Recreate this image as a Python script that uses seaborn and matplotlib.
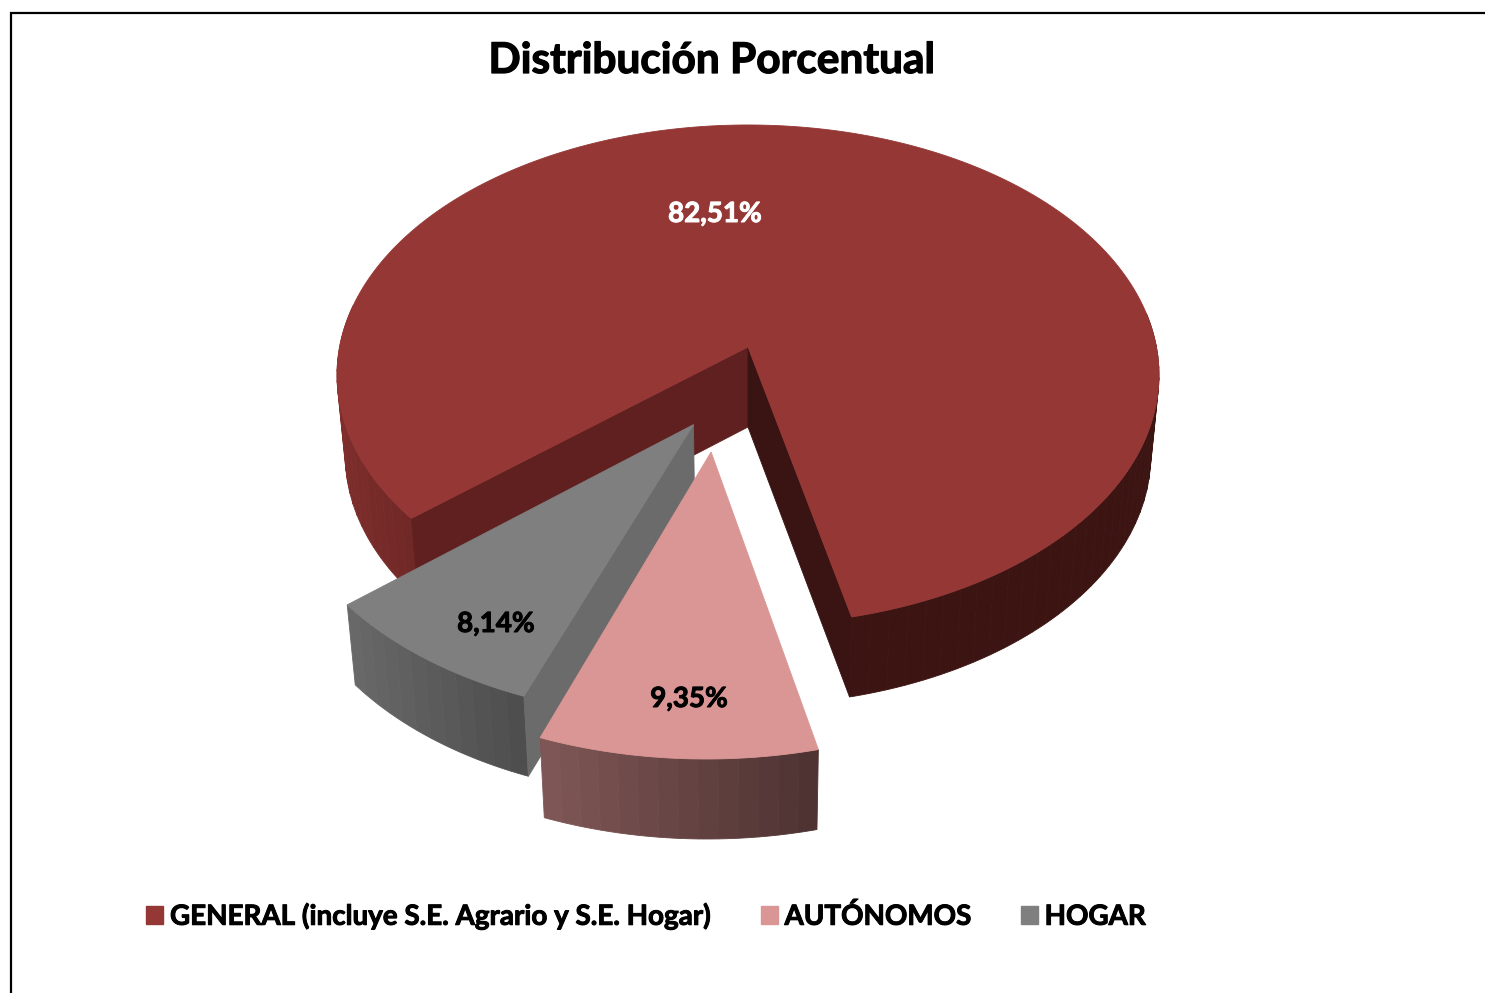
import numpy as np
import seaborn as sns
import matplotlib.pyplot as plt
import matplotlib.patheffects as pe
from matplotlib.patches import Patch, Polygon

LABELS = ['GENERAL (incluye S.E. Agrario y S.E. Hogar)', 'AUTÓNOMOS', 'HOGAR']
VALUES = [82.51, 9.35, 8.14]
VALUE_TEXT = ['82,51%', '9,35%', '8,14%']
TOP_COLORS = ['#953735', '#d99694', '#7f7f7f']
TEXT_COLORS = ['white', 'black', 'black']

# wall shading, left to right
WALL_COLORS = [['#7f2e2c', '#3c1513', '#3c1513'], ['#7d5655', '#4e3332'], ['#686868', '#4e4e4e']]
FACE_COLORS = ['#5f201f', '#3a1412']
GRAY_FACE = '#6b6b6b'

FIRST_ANGLE = 229.9
EXPLODE = [(0.0, 0.0), (0.415, 192.0), (0.33, 203.0)]
RADIUS = [1.0, 1.0, 0.98]
NUDGE = [0.0, -0.35, 0.0]
LABEL_POS = [(715, 214), (689, 699), (496, 624)]

# perspective of the pie plane, fitted on the picture
CX, CY = 748.0, 347.0
A, B, K = 408.4, 246.9, 0.112
DEPTH = 80.0
SHRINK = 0.02


def project(u, v, z=0.0):
	u = np.asarray(u, dtype=float)
	v = np.asarray(v, dtype=float)
	w = 1 + K * v
	sx = CX + A * u / w * (1 - SHRINK * z)
	sy = CY - B * v / w + DEPTH * z
	return sx, sy


def rim(a0, a1, off, rad, n=160):
	t = np.radians(np.linspace(a0, a1, n))
	return off[0] + rad * np.sin(t), off[1] + rad * np.cos(t)


def poly(ax, sx, sy, color, z):
	ax.add_patch(Polygon(np.column_stack([sx, sy]), closed=True, fc=color, ec=color, lw=0.6, zorder=z))


def draw_walls(ax, a0, a1, off, rad, colors, z):
	n = int(abs(a1 - a0) / 2.5) + 2
	edges = np.linspace(a0, a1, n)
	shades = sns.blend_palette(colors, 101)
	mids = np.sin(np.radians((edges[:-1] + edges[1:]) / 2))
	lo, hi = mids.min(), mids.max()
	for e0, e1, m in zip(edges[:-1], edges[1:], mids):
		u, v = rim(e0, e1, off, rad, 6)
		# only the near half of the rim can be seen
		if v.mean() - off[1] > 0.15:
			continue
		x0, y0 = project(u, v, 0)
		x1, y1 = project(u[::-1], v[::-1], 1)
		pos = (m - lo) / (hi - lo)
		poly(ax, np.r_[x0, x1], np.r_[y0, y1], shades[int(pos * 100)], z)


def draw_face(ax, off, rad, angle, color, z):
	u, v = rim(angle, angle, off, rad, 1)
	pu = [off[0], u[0], u[0], off[0]]
	pv = [off[1], v[0], v[0], off[1]]
	x0, y0 = project(pu[:2], pv[:2], 0)
	x1, y1 = project(pu[2:], pv[2:], 1)
	poly(ax, np.r_[x0, x1], np.r_[y0, y1], color, z)


def main():
	sns.set_theme(style='white')
	plt.rcParams['font.family'] = ['Lato', 'DejaVu Sans']

	fig, ax = plt.subplots(figsize=(14.85, 9.93), dpi=100)
	ax.set_position([0, 0, 1, 1])
	ax.set_xlim(0, 1485)
	ax.set_ylim(993, 0)
	ax.axis('off')

	# chart frame runs off the right and the bottom of the picture
	ax.plot([11, 11, 1490], [1000, 13, 13], color='black', lw=1.6, zorder=1, solid_joinstyle='miter')

	sweeps = np.array(VALUES) / sum(VALUES) * 360
	starts = FIRST_ANGLE + np.r_[0, np.cumsum(sweeps)[:-1]]

	# draw order: general, hogar, autonomos (pink sits in front of the gray wedge)
	for layer, i in enumerate([0, 2, 1]):
		start = starts[i] + NUDGE[i]
		end = start + sweeps[i]
		r, d = EXPLODE[i]
		rad = RADIUS[i]
		off = (r * np.sin(np.radians(d)), r * np.cos(np.radians(d)))
		base = 10 * (layer + 1)
		draw_walls(ax, start, end, off, rad, WALL_COLORS[i], base)
		if i == 0:
			draw_face(ax, off, rad, start, FACE_COLORS[0], base + 1)
			draw_face(ax, off, rad, end, FACE_COLORS[1], base + 1)
		if i == 2:
			draw_face(ax, off, rad, start, GRAY_FACE, base + 1)
		u, v = rim(start, end, off, rad, 240)
		sx, sy = project(np.r_[off[0], u], np.r_[off[1], v], 0)
		poly(ax, sx, sy, TOP_COLORS[i], base + 2)

	for txt, col, (x, y) in zip(VALUE_TEXT, TEXT_COLORS, LABEL_POS):
		t = ax.text(x, y, txt, color=col, fontsize=20, fontweight='bold', ha='center', va='center', zorder=60)
		t.set_path_effects([pe.withStroke(linewidth=0.7, foreground=col)])

	title = ax.text(712, 61, 'Distribución Porcentual', color='black', fontsize=30.5, fontweight='bold', ha='center', va='center')
	title.set_path_effects([pe.withStroke(linewidth=0.9, foreground='black')])

	handles = [Patch(fc=c, ec=c, label=l) for c, l in zip(TOP_COLORS, LABELS)]
	leg = ax.legend(handles=handles, ncol=3, frameon=False, loc='center', bbox_to_anchor=(646 / 1485, 1 - 916 / 993),
		prop={'family': 'Lato', 'weight': 'bold', 'size': 20}, handlelength=0.6, handleheight=0.6,
		handletextpad=0.25, columnspacing=1.8, labelcolor='black')
	for t in leg.get_texts():
		t.set_path_effects([pe.withStroke(linewidth=0.7, foreground='black')])

	fig.savefig('out.png', dpi=100, facecolor='white')
	plt.close(fig)


if __name__ == '__main__':
	main()
